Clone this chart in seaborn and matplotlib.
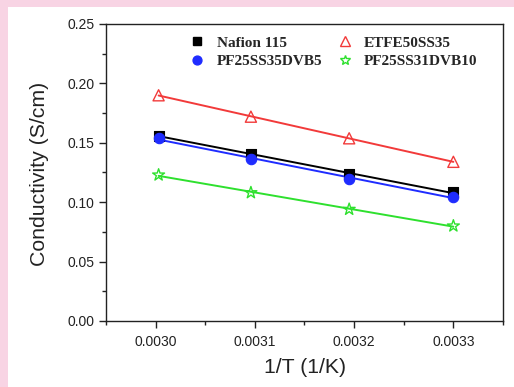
import matplotlib
matplotlib.use("Agg")
import matplotlib.pyplot as plt
from matplotlib.patches import Rectangle
from matplotlib.lines import Line2D
from matplotlib.ticker import MultipleLocator
import seaborn as sns
import pandas as pd

inv_T = [0.003003, 0.003096, 0.003195, 0.003300]
nafion = [0.156, 0.1406, 0.1235, 0.1083]
etfe = [0.190, 0.172, 0.1538, 0.134]
pf_dvb5 = [0.1538, 0.1364, 0.1195, 0.1046]
pf_dvb10 = [0.1229, 0.108, 0.094, 0.080]

series_names = ["Nafion 115", "ETFE50SS35", "PF25SS35DVB5", "PF25SS31DVB10"]
series_vals = [nafion, etfe, pf_dvb5, pf_dvb10]

sns.set_style("ticks")
plt.rcParams['font.family'] = ['Liberation Sans', 'DejaVu Sans']

fig = plt.figure(figsize=(5.14, 3.87), dpi=100)
fig.patch.set_facecolor('#f8d4e4')
fig.patches.append(Rectangle((8/514, 0), 1, (387-7)/387, transform=fig.transFigure,
                             facecolor='white', edgecolor='none', zorder=-10))
ax = fig.add_axes([106/514, 1-321/387, 397/514, (321-24)/387])

styles = {
    "Nafion 115": dict(color='black', marker='s', filled=True, ms=7),
    "ETFE50SS35": dict(color='#f23a3a', marker='^', filled=False, ms=8),
    "PF25SS35DVB5": dict(color='#1f2cff', marker='o', filled=True, ms=7.5),
    "PF25SS31DVB10": dict(color='#2ee02e', marker='*', filled=False, ms=9),
}

handles = {}
for name, vals in zip(series_names, series_vals):
    st = styles[name]
    df = pd.DataFrame({"x": inv_T, "y": vals})
    sns.regplot(data=df, x="x", y="y", ax=ax, ci=None, scatter=False, truncate=True,
                line_kws=dict(color=st['color'], lw=1.4, zorder=2))
    if st['filled']:
        sns.scatterplot(data=df, x="x", y="y", ax=ax, marker=st['marker'], s=st['ms']**2,
                        color=st['color'], edgecolor=st['color'], linewidth=0.8, zorder=3, legend=False)
    else:
        ax.scatter(df["x"], df["y"], marker=st['marker'], s=st['ms']**2,
                   facecolors='none', edgecolors=st['color'], linewidths=1.0, zorder=3)
    handles[name] = Line2D([], [], ls='none', marker=st['marker'], ms=st['ms']*0.85,
                           markerfacecolor=st['color'] if st['filled'] else 'none',
                           markeredgecolor=st['color'], markeredgewidth=1.0)

ax.set_xlim(0.00295, 0.00335)
ax.set_ylim(0, 0.25)
ax.xaxis.set_major_locator(MultipleLocator(0.0001))
ax.xaxis.set_minor_locator(MultipleLocator(0.00005))
ax.yaxis.set_major_locator(MultipleLocator(0.05))
ax.yaxis.set_minor_locator(MultipleLocator(0.025))
ax.xaxis.set_major_formatter(matplotlib.ticker.FormatStrFormatter('%.4f'))
ax.yaxis.set_major_formatter(matplotlib.ticker.FormatStrFormatter('%.2f'))
ax.tick_params(which='major', direction='out', length=5, width=1, labelsize=10, colors='#222222')
ax.tick_params(which='minor', direction='out', length=3, width=1, colors='#222222')
ax.tick_params(axis='x', pad=5)
for s in ax.spines.values():
    s.set_linewidth(1.0)
    s.set_color('#222222')

ax.set_xlabel("1/T (1/K)", fontsize=15.3, color='#222222')
ax.set_ylabel("Conductivity (S/cm)", fontsize=15.3, color='#222222')
ax.xaxis.set_label_coords((305.5 - 106) / 397, -(367.5 - 321) / 297)
ax.yaxis.set_label_coords((40 - 106) / 397, (321 - 173.5) / 297)
ax.xaxis.label.set_va('center')
ax.yaxis.label.set_va('center')

order = ["Nafion 115", "PF25SS35DVB5", "ETFE50SS35", "PF25SS31DVB10"]
leg = ax.legend([handles[n] for n in order], order, ncol=2, loc='upper left',
                bbox_to_anchor=(0.176, 1.006), frameon=False, handlelength=1.0,
                handletextpad=0.78, columnspacing=0.95, labelspacing=0.33,
                prop=dict(family=['Liberation Serif'], weight='bold', size=11))

fig.savefig("out.png", dpi=100, facecolor=fig.get_facecolor())
